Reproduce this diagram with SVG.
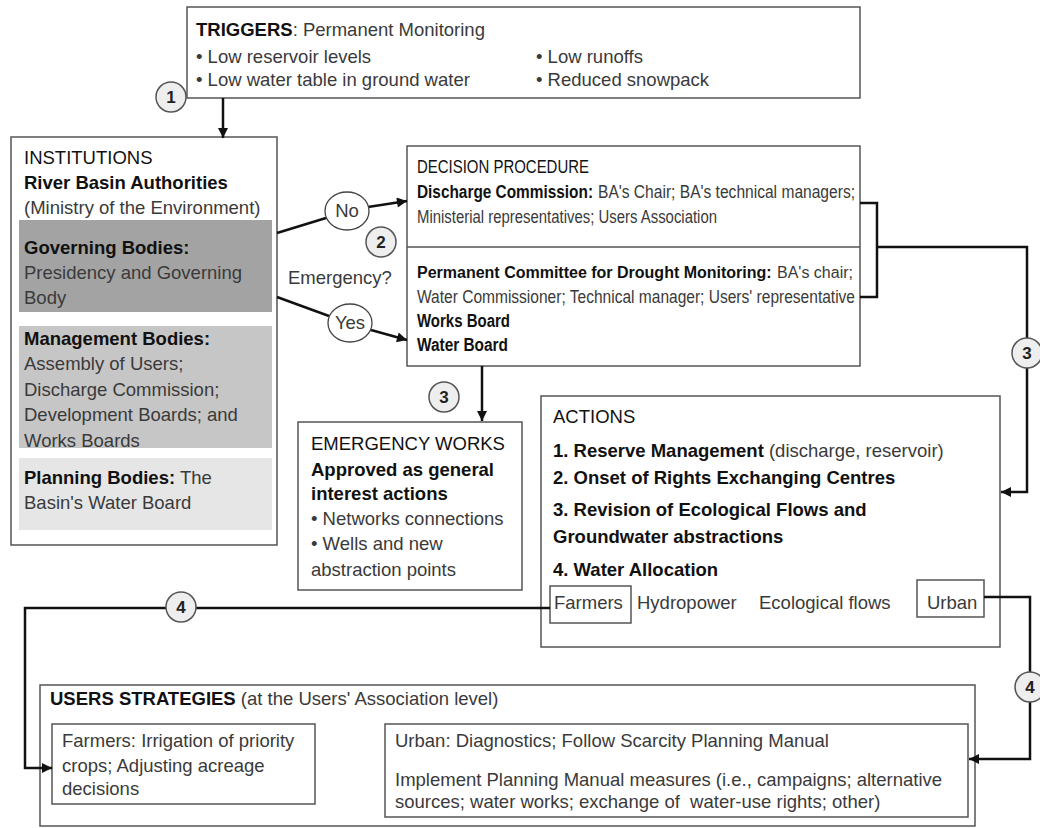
<svg xmlns="http://www.w3.org/2000/svg" width="1040" height="828" viewBox="0 0 1040 828">
<style>
text{font-family:"Liberation Sans",Arial,sans-serif;font-size:18.5px;fill:#3a3a3a}
.b{font-weight:bold;fill:#111}
.h{fill:#111}
.s16{font-size:17.5px}
.s15{font-size:16px}
.box{fill:#fff;stroke:#555;stroke-width:1.5}
.con{fill:none;stroke:#111;stroke-width:2.5}
.num{fill:#eee;stroke:#555;stroke-width:1.5}
.numt{font-weight:bold;font-size:17px;fill:#222;text-anchor:middle}
.ell{fill:#fff;stroke:#444;stroke-width:1.3}
</style>
<defs>
<marker id="ah" viewBox="0 0 10 10" refX="10" refY="5" markerWidth="12" markerHeight="10" markerUnits="userSpaceOnUse" orient="auto">
<path d="M0,0 L10,5 L0,10 z" fill="#111"/>
</marker>
</defs>
<rect width="1040" height="828" fill="#fff"/>

<g id="triggers">
<rect class="box" x="187" y="7" width="673" height="91"/>
<text x="196" y="36"><tspan class="b">TRIGGERS</tspan>: Permanent Monitoring</text>
<text x="196" y="63">• Low reservoir levels</text>
<text x="196" y="86">• Low water table in ground water</text>
<text x="536" y="63">• Low runoffs</text>
<text x="536" y="86">• Reduced snowpack</text>
</g>

<g id="institutions">
<rect class="box" x="11" y="137" width="266" height="408"/>
<text x="24" y="164" class="h">INSTITUTIONS</text>
<text x="24" y="189" class="b">River Basin Authorities</text>
<text x="24" y="214">(Ministry of the Environment)</text>
<rect x="19" y="220" width="253" height="92" fill="#a3a3a3"/>
<text x="24" y="254" class="b">Governing Bodies:</text>
<text x="24" y="279">Presidency and Governing</text>
<text x="24" y="304">Body</text>
<rect x="19" y="326" width="253" height="122" fill="#c6c6c6"/>
<text x="24" y="345" class="b">Management Bodies:</text>
<text x="24" y="370">Assembly of Users;</text>
<text x="24" y="396">Discharge Commission;</text>
<text x="24" y="421">Development Boards; and</text>
<text x="24" y="447">Works Boards</text>
<rect x="19" y="458" width="253" height="72" fill="#e6e6e6"/>
<text x="24" y="484"><tspan class="b">Planning Bodies:</tspan> The</text>
<text x="24" y="509">Basin's Water Board</text>
</g>

<g id="decision">
<rect class="box" x="407" y="146" width="453" height="220"/>
<line x1="407" y1="247" x2="860" y2="247" stroke="#555" stroke-width="1.5"/>
<text x="417" y="173" class="h s16" textLength="172" lengthAdjust="spacingAndGlyphs">DECISION PROCEDURE</text>
<text x="417" y="198" class="s16 b" textLength="176" lengthAdjust="spacingAndGlyphs">Discharge Commission:</text>
<text x="598" y="198" class="s16" textLength="257" lengthAdjust="spacingAndGlyphs">BA's Chair; BA's technical managers;</text>
<text x="417" y="223" class="s16" textLength="300" lengthAdjust="spacingAndGlyphs">Ministerial representatives; Users Association</text>
<text x="417" y="278" class="s15 b">Permanent Committee for Drought Monitoring:</text>
<text x="777" y="278" class="s15">BA's chair;</text>
<text x="417" y="303" class="s16" textLength="438" lengthAdjust="spacingAndGlyphs">Water Commissioner; Technical manager; Users' representative</text>
<text x="417" y="327" class="s16 b" textLength="93" lengthAdjust="spacingAndGlyphs">Works Board</text>
<text x="417" y="351" class="s16 b" textLength="91" lengthAdjust="spacingAndGlyphs">Water Board</text>
</g>

<g id="emergency">
<rect class="box" x="298" y="422" width="224" height="168"/>
<text x="311" y="450" class="h">EMERGENCY WORKS</text>
<text x="311" y="476" class="b">Approved as general</text>
<text x="311" y="500" class="b">interest actions</text>
<text x="311" y="525">• Networks connections</text>
<text x="311" y="550">• Wells and new</text>
<text x="311" y="576">abstraction points</text>
</g>

<g id="actions">
<rect class="box" x="541" y="396" width="459" height="251"/>
<text x="553" y="423" class="h">ACTIONS</text>
<text x="553" y="457"><tspan class="b">1. Reserve Management</tspan> (discharge, reservoir)</text>
<text x="553" y="484" class="b">2. Onset of Rights Exchanging Centres</text>
<text x="553" y="516" class="b">3. Revision of Ecological Flows and</text>
<text x="553" y="543" class="b">Groundwater abstractions</text>
<text x="553" y="576" class="b">4. Water Allocation</text>
<rect class="box" x="550" y="586" width="81" height="37"/>
<text x="554" y="609">Farmers</text>
<text x="637" y="609">Hydropower</text>
<text x="759" y="609">Ecological flows</text>
<rect class="box" x="917" y="580" width="67" height="37"/>
<text x="927" y="609">Urban</text>
</g>

<g id="users-strategies">
<rect class="box" x="40" y="685" width="935" height="141"/>
<text x="50" y="705"><tspan class="b">USERS STRATEGIES</tspan> (at the Users' Association level)</text>
<rect class="box" x="52" y="724" width="263" height="80"/>
<text x="62" y="747">Farmers: Irrigation of priority</text>
<text x="62" y="772">crops; Adjusting acreage</text>
<text x="62" y="795">decisions</text>
<rect class="box" x="385" y="724" width="583" height="93"/>
<text x="395" y="747">Urban: Diagnostics; Follow Scarcity Planning Manual</text>
<text x="395" y="786">Implement Planning Manual measures (i.e., campaigns; alternative</text>
<text x="395" y="808" xml:space="preserve">sources; water works; exchange of  water-use rights; other)</text>
</g>

<g id="connectors">
<path class="con" d="M223,98 V138" marker-end="url(#ah)"/>
<path class="con" d="M277,233 L326,218"/>
<path class="con" d="M368,207 L407,201" marker-end="url(#ah)"/>
<path class="con" d="M277,297 L329,316"/>
<path class="con" d="M371,330 L407,340" marker-end="url(#ah)"/>
<path class="con" d="M860,203 H877 V297 H860"/>
<path class="con" d="M877,247 H1027 V492 H1001" marker-end="url(#ah)"/>
<path class="con" d="M482,366 V421" marker-end="url(#ah)"/>
<path class="con" d="M550,608 H25 V768 H52" marker-end="url(#ah)"/>
<path class="con" d="M984,597 H1030 V759 H969" marker-end="url(#ah)"/>
</g>

<g id="decision-no-yes">
<ellipse class="ell" cx="347" cy="211" rx="22" ry="19"/>
<text x="347" y="217" text-anchor="middle">No</text>
<ellipse class="ell" cx="350" cy="323" rx="22" ry="19"/>
<text x="350" y="329" text-anchor="middle">Yes</text>
<circle class="num" cx="381" cy="242" r="15"/>
<text class="numt" x="381" y="248">2</text>
<text x="288" y="284">Emergency?</text>
</g>

<g id="markers">
<circle class="num" cx="171" cy="97" r="15"/>
<text class="numt" x="171" y="103">1</text>
<circle class="num" cx="1027" cy="353" r="15"/>
<text class="numt" x="1027" y="359">3</text>
<circle class="num" cx="444" cy="397" r="15"/>
<text class="numt" x="444" y="403">3</text>
<circle class="num" cx="181" cy="607" r="15"/>
<text class="numt" x="181" y="613">4</text>
<circle class="num" cx="1030" cy="687" r="15"/>
<text class="numt" x="1030" y="693">4</text>
</g>
</svg>
